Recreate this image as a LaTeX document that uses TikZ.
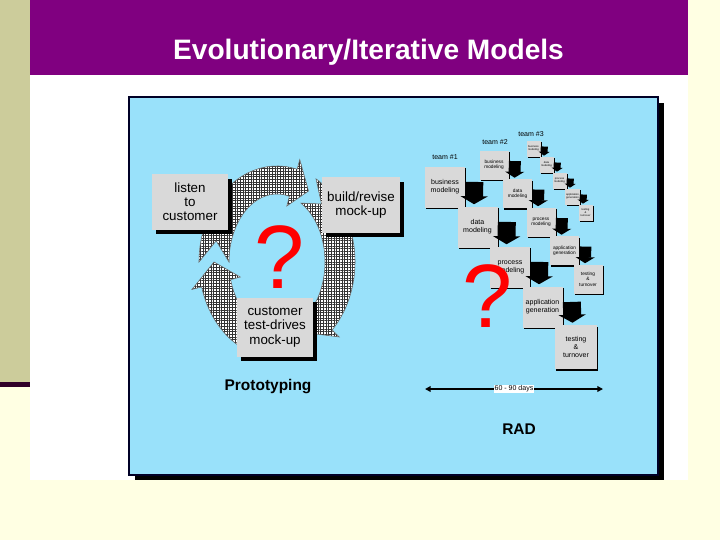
\documentclass[tikz,border=0pt]{standalone}
\usepackage{fontspec}
\setmainfont{Liberation Sans}
\usetikzlibrary{arrows.meta,patterns.meta,shadows}

\definecolor{cream}{RGB}{255,255,227}
\definecolor{olive}{RGB}{204,204,155}
\definecolor{plum}{RGB}{128,0,128}
\definecolor{darkplum}{RGB}{48,0,40}
\definecolor{skyblue}{RGB}{153,225,250}
\definecolor{boxgray}{RGB}{217,217,217}

\tikzset{
  titletext/.style={text=white, font=\fontsize{20}{24}\selectfont\bfseries, inner sep=0pt},
  heading/.style={font=\fontsize{11}{13}\selectfont\bfseries, inner sep=0pt},
  bigq/.style={text=red, font=\fontsize{64}{64}\selectfont, inner sep=0pt},
  protobox/.style={fill=boxgray, align=center, inner sep=1pt,
    font=\fontsize{9.5}{10}\selectfont,
    drop shadow={shadow xshift=2.8pt, shadow yshift=-3.2pt, fill=black, opacity=1}},
  radbox/.style={fill=boxgray, align=center, inner sep=0.5pt,
    drop shadow={shadow xshift=0.8pt, shadow yshift=-1.2pt, fill=black, opacity=1}},
  teamone/.style={radbox, minimum width=1cm, minimum height=1.025cm, font=\fontsize{5}{5.5}\selectfont},
  teamtwo/.style={radbox, minimum width=0.725cm, minimum height=0.725cm, font=\fontsize{3.4}{3.8}\selectfont},
  teamthree/.style={radbox, minimum width=0.35cm, minimum height=0.4cm, font=\fontsize{1.9}{2.2}\selectfont},
  teamlabel/.style={font=\fontsize{5}{6}\selectfont, inner sep=0pt},
  bigarrow/.style={line width=12.8pt, -{Triangle[length=5.7pt,width=19.2pt]}},
  midarrow/.style={line width=8.5pt, -{Triangle[length=4.3pt,width=13.5pt]}},
  smallarrow/.style={line width=5pt, -{Triangle[length=2.8pt,width=7.8pt]}},
  ringseg/.style={preaction={fill=white},
    pattern={Hatch[angle=0, distance=1.9pt, line width=0.6pt]}, pattern color=black!80,
    draw=black!60, thin}
}

% one piece of the circular arrow round the prototyping loop
\newcommand{\ringarrow}[2]{%
  \path[ringseg] (#1:78 and 96) arc[start angle=#1, end angle=#2, x radius=78, y radius=96]
    -- (#2:88 and 106) -- ({#2+15}:63 and 82) -- (#2:38 and 58) -- (#2:48 and 68)
    arc[start angle=#2, end angle=#1, x radius=48, y radius=68] -- ({#1+15}:63 and 82) -- cycle;}

\begin{document}
\begin{tikzpicture}[x=0.025cm, y=-0.025cm]
    \useasboundingbox (0,0) rectangle (720,540);
    % slide
    \fill[cream] (0,0) rectangle (720,540);
    \fill[olive] (0,0) rectangle (30,382);
    \fill[darkplum] (0,382) rectangle (30,387);
    \fill[white] (30,0) rectangle (688,480);
    \fill[plum] (30,0) rectangle (688,75);
    \node[titletext, anchor=base] (title) at (368.5,59) {Evolutionary/Iterative Models};
    % panel
    \fill[black] (135,103) rectangle (664,479.5);
    \filldraw[fill=skyblue, draw=black!85!blue, line width=0.8pt] (129,97) rectangle (658,475);

    % Prototyping
    \begin{scope}[shift={(277,262)}]
        \ringarrow{180}{285}
        \ringarrow{300}{405}
        \ringarrow{60}{165}
    \end{scope}
    \node[protobox, minimum width=1.9cm, minimum height=1.375cm] (listen) at (190,202) {listen\\to\\customer};
    \node[protobox, minimum width=1.95cm, minimum height=1.375cm] (build) at (361,205) {build/revise\\mock-up};
    \node[protobox, minimum width=1.9cm, minimum height=1.475cm] (testdrive) at (275,327) {customer\\test-drives\\mock-up};
    \node[bigq] (protoq) at (280,257) {?};
    \node[heading] (proto) at (268,387) {Prototyping};

    % RAD: team #3
    \node[teamlabel] (lab3) at (531,134) {team \#3};
    \node[teamthree] (bm3) at (533.5,148.5) {business\\modeling};
    \node[teamthree] (dm3) at (546.5,164.5) {data\\modeling};
    \node[teamthree] (pm3) at (559.5,180.5) {process\\modeling};
    \node[teamthree] (ag3) at (572.5,196.5) {application\\generation};
    \node[teamthree] (tt3) at (585.5,212.5) {testing\\\&\\turnover};
    \foreach \a/\b in {bm3/dm3, dm3/pm3, pm3/ag3, ag3/tt3}
        \draw[smallarrow] ([xshift=2.5pt, yshift=1.4pt]\a.east) -- ([xshift=-1.8pt, yshift=0.4pt]\b.north);

    % RAD: team #2
    \node[teamlabel] (lab2) at (495,142) {team \#2};
    \node[teamtwo] (bm2) at (494,165) {business\\modeling};
    \node[teamtwo] (dm2) at (517.5,193.5) {data\\modeling};
    \node[teamtwo] (pm2) at (541,222) {process\\modeling};
    \node[teamtwo] (ag2) at (564.5,250.5) {application\\generation};
    \node[teamtwo] (tt2) at (588,279) {testing\\\&\\turnover};
    \foreach \a/\b in {bm2/dm2, dm2/pm2, pm2/ag2, ag2/tt2}
        \draw[midarrow] ([xshift=4.3pt, yshift=2.8pt]\a.east) -- ([xshift=-2.1pt, yshift=0.7pt]\b.north);

    % RAD: team #1
    \node[teamlabel] (lab1) at (445,157) {team \#1};
    \node[teamone] (bm1) at (445,187) {business\\modeling};
    \node[teamone] (dm1) at (477.5,227) {data\\modeling};
    \node[teamone] (pm1) at (510,267) {process\\modeling};
    \node[teamone] (ag1) at (542.5,307) {application\\generation};
    \node[teamone, minimum width=1.05cm, minimum height=1.1cm] (tt1) at (576,347) {testing\\\&\\turnover};
    \foreach \a/\b in {bm1/dm1, dm1/pm1, pm1/ag1, ag1/tt1}
        \draw[bigarrow] ([xshift=6.4pt, yshift=3.6pt]\a.east) -- ([xshift=-2.5pt, yshift=1.4pt]\b.north);
    \node[bigq] (radq) at (488,296) {?};

    % time span
    \coordinate (spanl) at (425,389);
    \coordinate (spanr) at (603,389);
    \draw[line width=1pt, {Triangle[length=4pt,width=4pt]}-{Triangle[length=4pt,width=4pt]}] (spanl) -- (spanr)
        node[midway, fill=white, inner sep=0.6pt, font=\fontsize{5}{6}\selectfont] (span) {60 - 90 days};
    \node[heading] (rad) at (519,429) {RAD};
\end{tikzpicture}
\end{document}
